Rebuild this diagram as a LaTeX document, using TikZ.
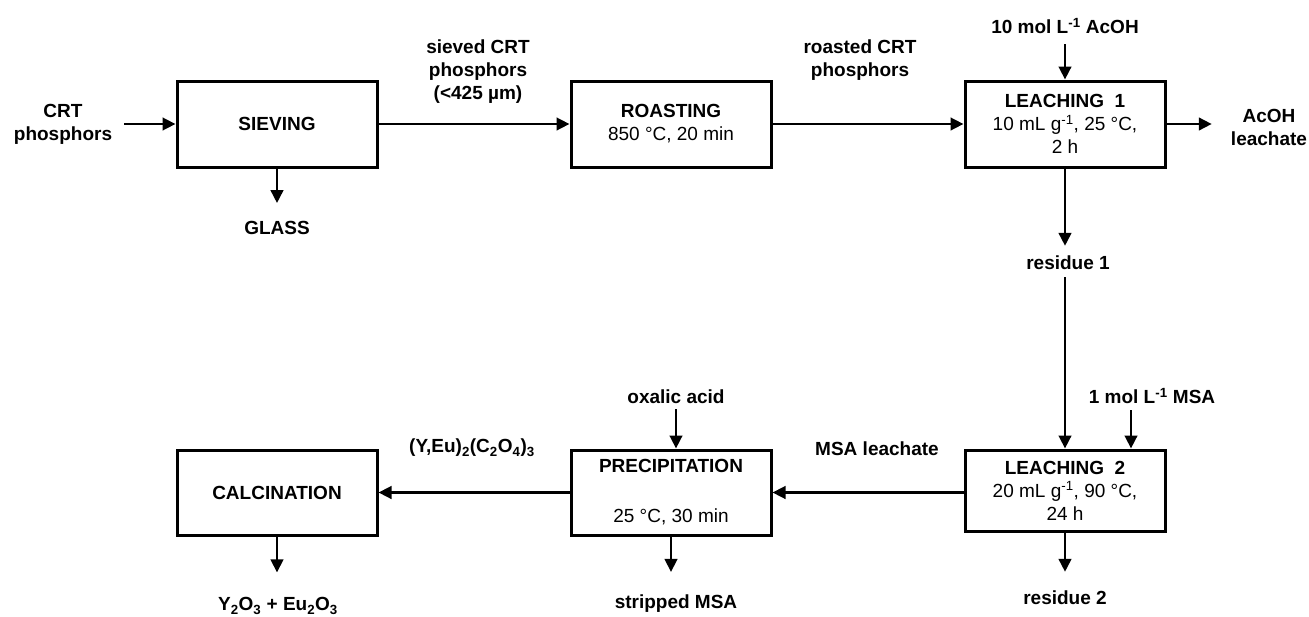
\documentclass[tikz,border=0pt]{standalone}
\usepackage{fontspec}
\setmainfont{Liberation Sans}
\usetikzlibrary{arrows.meta}
\newcommand{\figfs}{\fontsize{19}{23}\selectfont}
\begin{document}
\begin{tikzpicture}[x=1pt,y=-1pt,
  box/.style={draw, line width=3pt, minimum width=200pt, inner sep=0pt, align=center, font=\figfs},
  lbl/.style={inner sep=3pt, align=center, font=\figfs\bfseries},
  arr/.style={line width=2.7pt, -{Triangle[length=13pt,width=12.5pt]}},
]
\useasboundingbox (0,0) rectangle (1309,616);
% boxes
\node[box, minimum height=86pt] (siev) at (277,124) {\textbf{SIEVING}};
\node[box, minimum height=86pt] (roast) at (671,124) {\textbf{ROASTING}\\850 °C, 20 min};
\node[box, minimum height=86pt] (leach1) at (1065,124) {\textbf{LEACHING\ \ 1}\\10 mL g\textsuperscript{-1}, 25 °C,\\2 h};
\node[box, minimum height=85pt] (calc) at (277,492.5) {\textbf{CALCINATION}};
\node[box, minimum height=85pt] (prec) at (671,492.5) {\textbf{PRECIPITATION}\\[27pt]25 °C, 30 min};
\node[box, minimum height=81pt] (leach2) at (1065,490.5) {\textbf{LEACHING\ \ 2}\\20 mL g\textsuperscript{-1}, 90 °C,\\24 h};
% labels
\node[lbl] (crt) at (63,124) {CRT\\phosphors};
\node[lbl] (glass) at (277,228) {GLASS};
\node[lbl] (sieved) at (478,72) {sieved CRT\\phosphors\\(<425 µm)};
\node[lbl] (roasted) at (860,60) {roasted CRT\\phosphors};
\node[lbl] (acoh) at (1065,26) {10 mol L\textsuperscript{-1} AcOH};
\node[lbl] (leachate) at (1269,127) {AcOH\\leachate};
\node[lbl] (res1) at (1068,263) {residue 1};
\node[lbl] (msa) at (1152,396) {1 mol L\textsuperscript{-1} MSA};
\node[lbl] (oxalic) at (676,397) {oxalic acid};
\node[lbl] (msaleach) at (877,449) {MSA leachate};
\node[lbl] (yeu) at (472,448) {(Y,Eu)\textsubscript{2}(C\textsubscript{2}O\textsubscript{4})\textsubscript{3}};
\node[lbl] (oxide) at (278,606) {Y\textsubscript{2}O\textsubscript{3} + Eu\textsubscript{2}O\textsubscript{3}};
\node[lbl] (strip) at (676,604) {stripped MSA};
\node[lbl] (res2) at (1065,598) {residue 2};
% connectors
\draw[arr, shorten <=9pt] (crt.east |- siev.west) -- (siev.west);
\draw[arr, shorten >=15pt] (siev.south) -- (glass.north);
\draw[arr] (siev) -- (roast);
\draw[arr] (roast) -- (leach1);
\draw[arr, shorten <=7pt] (acoh.south) -- (leach1.north);
\draw[arr, shorten >=16pt] (leach1.east) -- (leach1.east -| leachate.west);
\draw[arr, shorten >=7pt] (leach1.south) -- (res1.north -| leach1.south);
\draw[arr, shorten <=4pt] (res1.south -| leach2.north) -- (leach2.north);
\draw[arr, shorten <=3pt] ([xshift=-21pt]msa.south) -- ([xshift=-21pt]msa.south |- leach2.north);
\draw[arr] (leach2.west |- prec.east) -- (prec.east);
\draw[arr] (prec) -- (calc);
\draw[arr, shorten <=2pt] (oxalic.south) -- (oxalic.south |- prec.north);
\draw[arr, shorten >=22pt] (calc.south) -- (oxide.north -| calc.south);
\draw[arr, shorten >=20pt] (prec.south) -- (strip.north -| prec.south);
\draw[arr, shorten >=16pt] (leach2.south) -- (res2.north);
\end{tikzpicture}
\end{document}
